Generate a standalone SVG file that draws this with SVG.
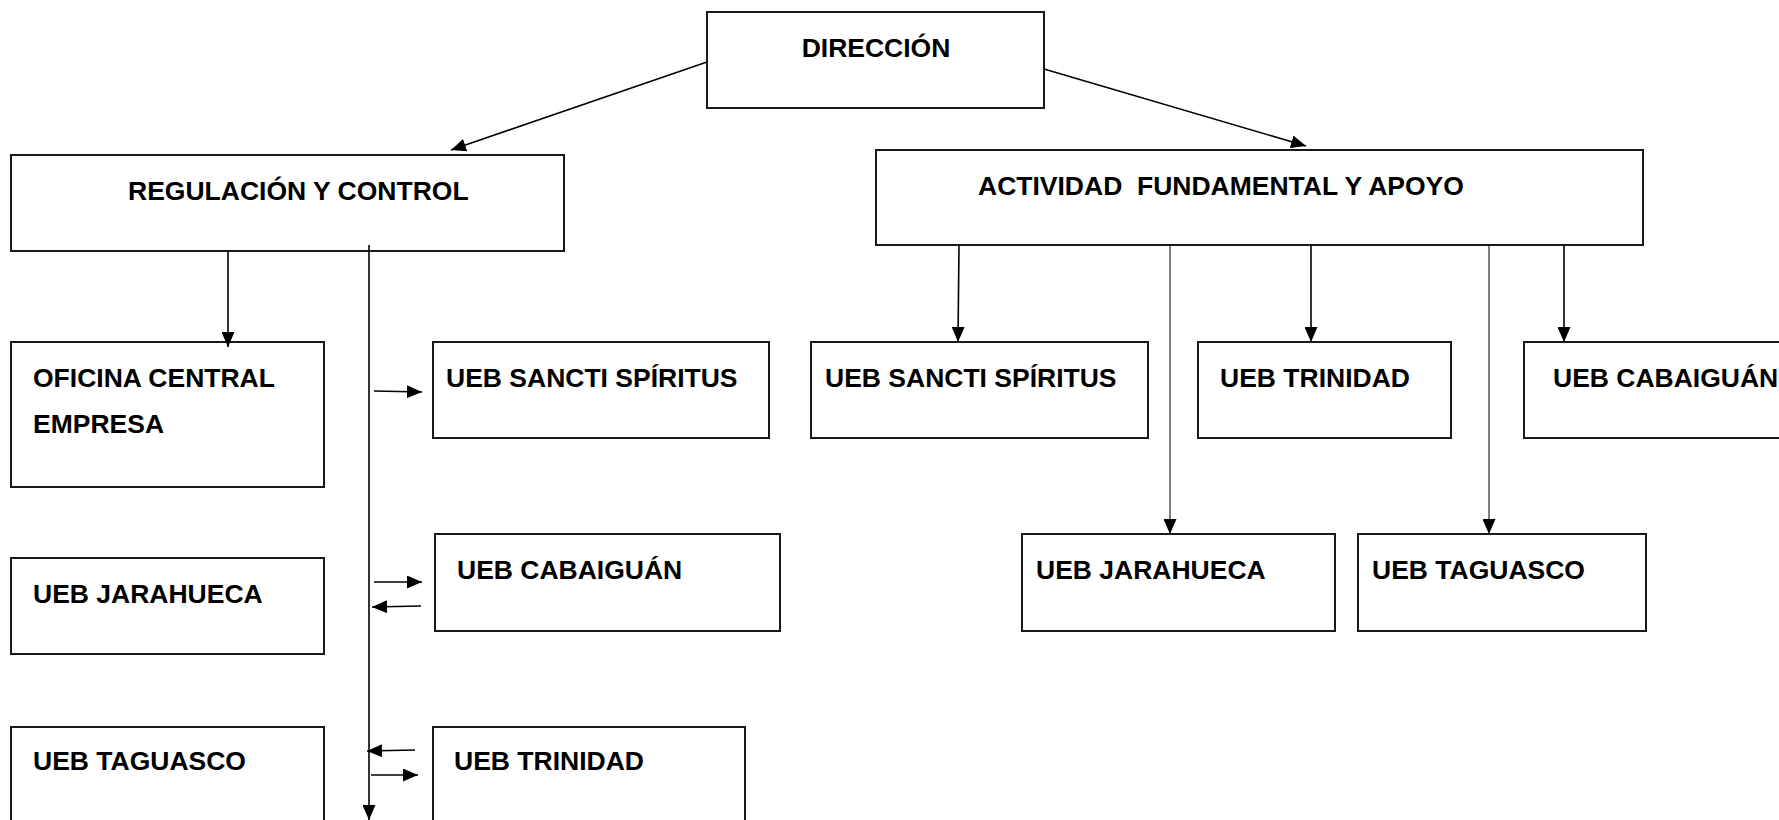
<svg xmlns="http://www.w3.org/2000/svg" width="1779" height="820" viewBox="0 0 1779 820">
<defs>
<marker id="ah" viewBox="0 0 15 13" refX="15" refY="6.5" markerWidth="15" markerHeight="13" markerUnits="userSpaceOnUse" orient="auto">
<path d="M0,0 L15,6.5 L0,13 z" fill="#000"/>
</marker>
<style>
.box{fill:#fff;stroke:#1a1a1a;stroke-width:2}
.t{font-family:"Liberation Sans",Arial,sans-serif;font-weight:bold;font-size:26.5px;fill:#000;white-space:pre}
.c{stroke:#000;stroke-width:1.6;fill:none}
.thin{stroke:#000;stroke-width:1;fill:none}
</style>
</defs>
<rect width="1779" height="820" fill="#fff"/>

<g id="n-direccion"><rect class="box" x="707" y="12" width="337" height="96"/><text class="t" x="876" y="57" text-anchor="middle">DIRECCIÓN</text></g>
<g id="n-regulacion"><rect class="box" x="11" y="155" width="553" height="96"/><text class="t" x="128" y="200">REGULACIÓN Y CONTROL</text></g>
<g id="n-actividad"><rect class="box" x="876" y="150" width="767" height="95"/><text class="t" x="978" y="195" xml:space="preserve">ACTIVIDAD  FUNDAMENTAL Y APOYO</text></g>

<g id="n-oficina"><rect class="box" x="11" y="342" width="313" height="145"/><text class="t" x="33" y="387">OFICINA CENTRAL</text><text class="t" x="33" y="433">EMPRESA</text></g>
<g id="n-jarahueca-l"><rect class="box" x="11" y="558" width="313" height="96"/><text class="t" x="33" y="603">UEB JARAHUECA</text></g>
<g id="n-taguasco-l"><rect class="box" x="11" y="727" width="313" height="100"/><text class="t" x="33" y="770">UEB TAGUASCO</text></g>

<g id="n-sancti-m"><rect class="box" x="433" y="342" width="336" height="96"/><text class="t" x="446" y="387">UEB SANCTI SPÍRITUS</text></g>
<g id="n-cabaiguan-m"><rect class="box" x="435" y="534" width="345" height="97"/><text class="t" x="457" y="579">UEB CABAIGUÁN</text></g>
<g id="n-trinidad-m"><rect class="box" x="433" y="727" width="312" height="100"/><text class="t" x="454" y="770">UEB TRINIDAD</text></g>

<g id="n-sancti-r"><rect class="box" x="811" y="342" width="337" height="96"/><text class="t" x="825" y="387">UEB SANCTI SPÍRITUS</text></g>
<g id="n-trinidad-r"><rect class="box" x="1198" y="342" width="253" height="96"/><text class="t" x="1220" y="387">UEB TRINIDAD</text></g>
<g id="n-cabaiguan-r"><rect class="box" x="1524" y="342" width="262" height="96"/><text class="t" x="1553" y="387">UEB CABAIGUÁN</text></g>
<g id="n-jarahueca-r"><rect class="box" x="1022" y="534" width="313" height="97"/><text class="t" x="1036" y="579">UEB JARAHUECA</text></g>
<g id="n-taguasco-r"><rect class="box" x="1358" y="534" width="288" height="97"/><text class="t" x="1372" y="579">UEB TAGUASCO</text></g>

<g id="connectors">
<line class="c" x1="707" y1="62" x2="451" y2="150" marker-end="url(#ah)"/>
<line class="c" x1="1044" y1="69" x2="1306" y2="146" marker-end="url(#ah)"/>
<line class="c" x1="228" y1="251" x2="228" y2="347" marker-end="url(#ah)"/>
<line class="c" x1="369" y1="245" x2="369" y2="820" marker-end="url(#ah)"/>
<line class="c" x1="374" y1="391" x2="422" y2="392" marker-end="url(#ah)"/>
<line class="c" x1="374" y1="582" x2="422" y2="582" marker-end="url(#ah)"/>
<line class="c" x1="421" y1="606" x2="372" y2="607" marker-end="url(#ah)"/>
<line class="c" x1="415" y1="750" x2="367" y2="751" marker-end="url(#ah)"/>
<line class="c" x1="371" y1="775" x2="418" y2="775" marker-end="url(#ah)"/>
<line class="c" x1="959" y1="245" x2="958" y2="342" marker-end="url(#ah)"/>
<line class="thin" x1="1170" y1="245" x2="1170" y2="534" marker-end="url(#ah)"/>
<line class="c" x1="1311" y1="245" x2="1311" y2="342" marker-end="url(#ah)"/>
<line class="thin" x1="1489" y1="245" x2="1489" y2="534" marker-end="url(#ah)"/>
<line class="c" x1="1564" y1="245" x2="1564" y2="342" marker-end="url(#ah)"/>
</g>
</svg>
